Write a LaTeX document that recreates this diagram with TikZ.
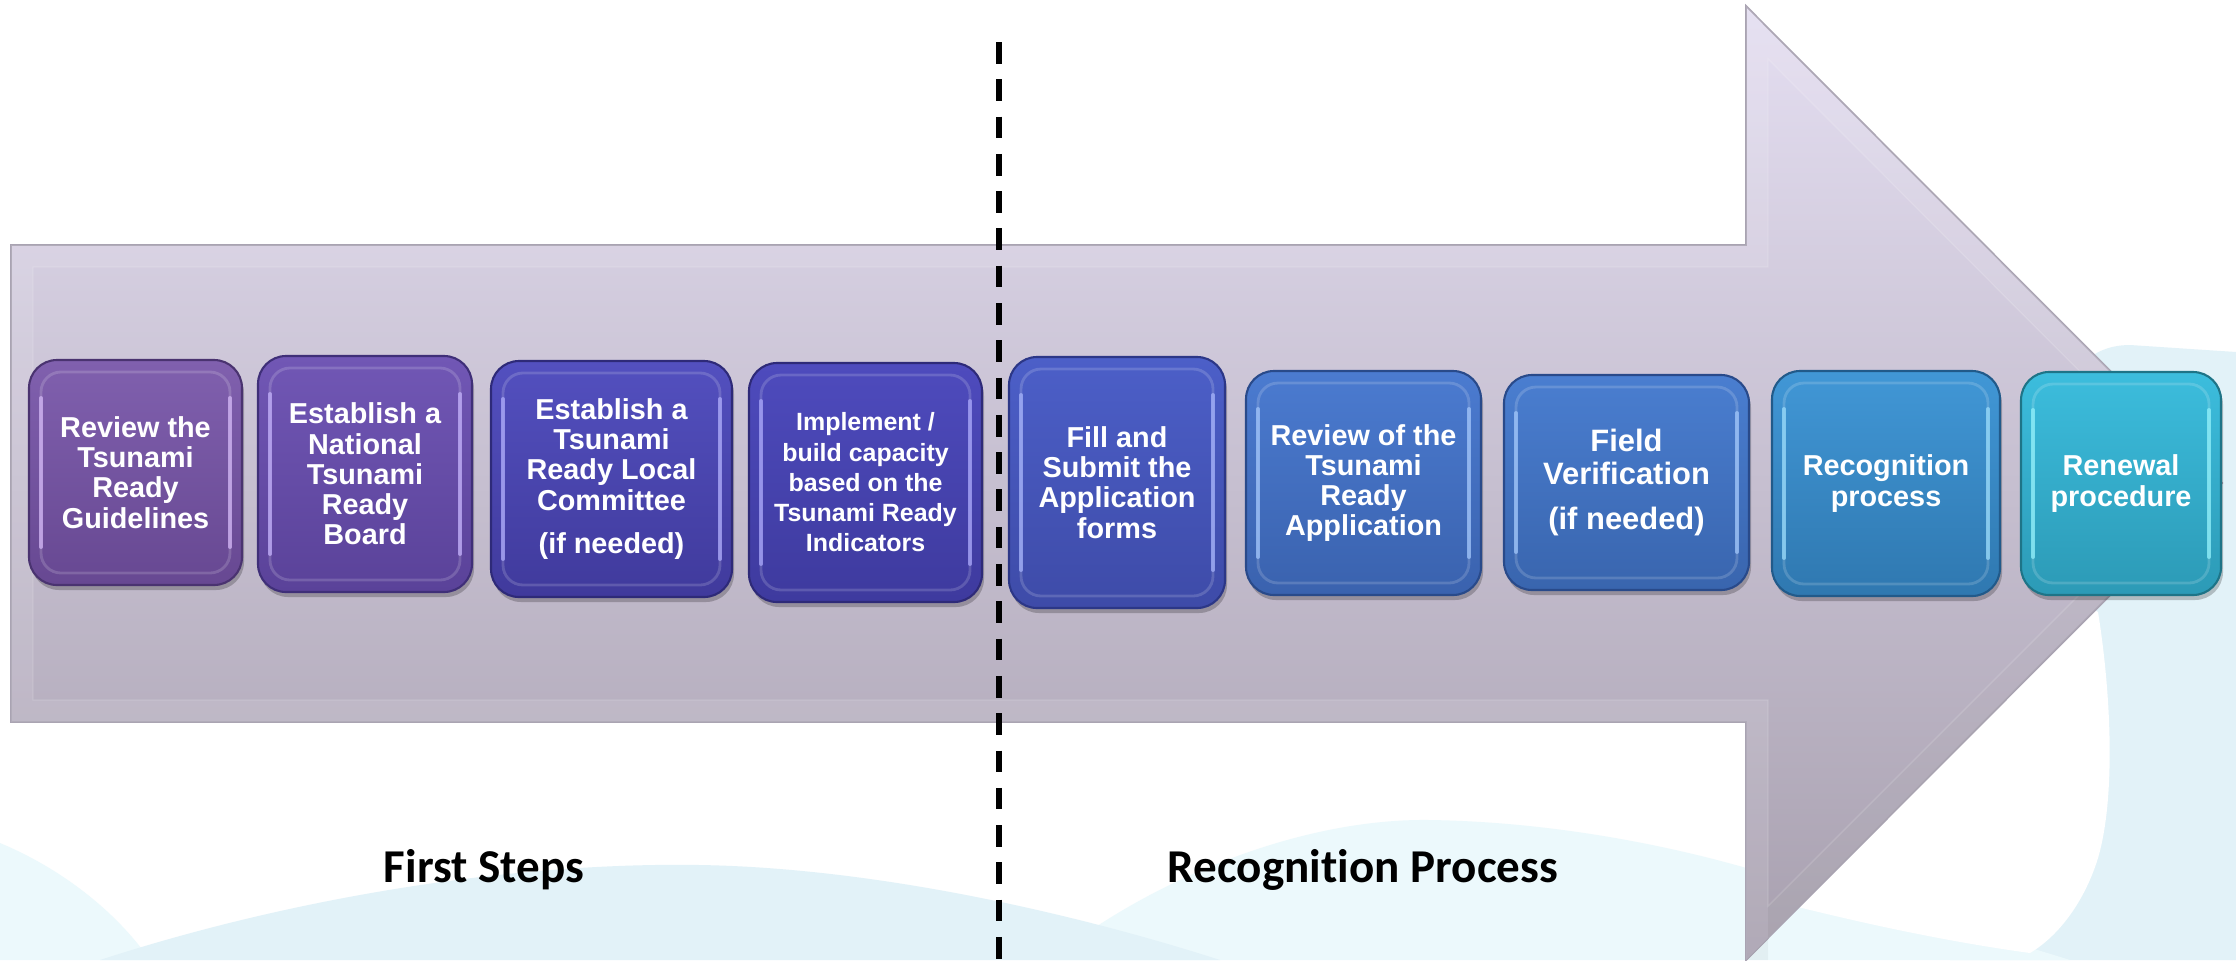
\documentclass[tikz,border=0pt]{standalone}
\usepackage{fontspec}
\setmainfont{Liberation Sans}
\newfontfamily\calibfont{Carlito}[Ligatures=NoCommon]
\usetikzlibrary{calc}
\definecolor{paleC}{HTML}{ECF9FC}
\definecolor{paleB}{HTML}{E2F2F8}
\definecolor{arrT}{HTML}{E4DEF1}
\definecolor{arrB}{HTML}{A8A0AF}
\definecolor{arrE}{HTML}{A9A3B2}
% box colours: T top, B bottom, E edge, H highlight
\definecolor{b1T}{HTML}{8060AE}\definecolor{b1B}{HTML}{674892}\definecolor{b1E}{HTML}{4A3370}\definecolor{b1H}{HTML}{D2B6F5}
\definecolor{b2T}{HTML}{7157B5}\definecolor{b2B}{HTML}{5A4299}\definecolor{b2E}{HTML}{3F2F78}\definecolor{b2H}{HTML}{C2B0FA}
\definecolor{b3T}{HTML}{5350BF}\definecolor{b3B}{HTML}{403A9C}\definecolor{b3E}{HTML}{2E2A78}\definecolor{b3H}{HTML}{ACAAFA}
\definecolor{b4T}{HTML}{4E4BBD}\definecolor{b4B}{HTML}{3E3A9E}\definecolor{b4E}{HTML}{2E2A78}\definecolor{b4H}{HTML}{A8A6FA}
\definecolor{b5T}{HTML}{4C5FC8}\definecolor{b5B}{HTML}{3E4BA8}\definecolor{b5E}{HTML}{2C3787}\definecolor{b5H}{HTML}{A4B2FA}
\definecolor{b6T}{HTML}{4B7BD0}\definecolor{b6B}{HTML}{3A62AE}\definecolor{b6E}{HTML}{294A8A}\definecolor{b6H}{HTML}{A0C4FA}
\definecolor{b7T}{HTML}{4A7ED0}\definecolor{b7B}{HTML}{3965AE}\definecolor{b7E}{HTML}{294A8A}\definecolor{b7H}{HTML}{A0C6FA}
\definecolor{b8T}{HTML}{4197D6}\definecolor{b8B}{HTML}{2F78B0}\definecolor{b8E}{HTML}{215A8A}\definecolor{b8H}{HTML}{98DAFA}
\definecolor{b9T}{HTML}{3CBDDD}\definecolor{b9B}{HTML}{2C9AB6}\definecolor{b9E}{HTML}{1E7487}\definecolor{b9H}{HTML}{90F0FA}
\newcommand\boxfa{\bfseries\fontsize{8.2pt}{8.6pt}\selectfont}
\newcommand\boxfb{\bfseries\fontsize{7.1pt}{8.6pt}\selectfont}
\newcommand\boxfc{\bfseries\fontsize{8.8pt}{9.4pt}\selectfont}
\newcommand\tbox[8]{%
  \fill[black, opacity=0.22, rounded corners=2.8mm] ({#2+2},{#3+5}) rectangle ({#4+2},{#5+5});
  \shadedraw[top color=#6T, bottom color=#6B, draw=#6E, line width=0.6pt, rounded corners=2.8mm] (#2,#3) rectangle (#4,#5);
  \draw[white, opacity=0.16, line width=0.8pt, rounded corners=2mm] ({#2+12},{#3+12}) rectangle ({#4-12},{#5-12});
  \draw[#6H, opacity=0.75, line width=1.1pt, line cap=round] ({#2+12},{#3+38}) -- ({#2+12},{#5-38});
  \draw[#6H, opacity=0.75, line width=1.1pt, line cap=round] ({#4-12},{#3+38}) -- ({#4-12},{#5-38});
  \node[text=white, align=center, inner sep=0pt, font=#7] (#1) at ({(#2+#4)/2},{(#3+#5)/2}) {#8};
}
\begin{document}
\begin{tikzpicture}[x=0.1mm,y=-0.1mm]
\useasboundingbox (0,0) rectangle (2236,960);
\fill[white] (0,0) rectangle (2236,960);
% background waves
\fill[paleC] (0,843) .. controls (60,868) and (115,910) .. (150,960) -- (0,960) -- cycle;
\fill[paleB] (2236,352) -- (2130,345) .. controls (2085,345) and (2060,380) .. (2060,430) -- (2060,700) -- (1950,960) -- (2236,960) -- cycle;
\fill[paleC] (1050,960) .. controls (1150,880) and (1300,818) .. (1430,820) .. controls (1560,822) and (1680,848) .. (1760,872) .. controls (1900,910) and (1990,935) .. (2070,960) -- cycle;
\fill[paleB] (100,960) .. controls (300,895) and (520,862) .. (700,865) .. controls (880,868) and (1080,915) .. (1220,960) -- cycle;
\fill[white] (2000,560) -- (2098,612) .. controls (2112,700) and (2115,800) .. (2098,858) .. controls (2085,900) and (2060,935) .. (2030,953) .. controls (1950,942) and (1870,925) .. (1790,905) -- (1760,900) -- cycle;
% big arrow
\shadedraw[top color=arrT, bottom color=arrB, draw=arrE, line width=0.5pt]
  (11,245) -- (1746,245) -- (1746,6) -- (2222,483) -- (1746,960) -- (1746,722) -- (11,722) -- cycle;
\fill[white, opacity=0.1, even odd rule]
  (11,245) -- (1746,245) -- (1746,6) -- (2222,483) -- (1746,960) -- (1746,722) -- (11,722) -- cycle
  (33,267) -- (1768,267) -- (1768,59) -- (2191,483) -- (1768,906) -- (1768,700) -- (33,700) -- cycle;
\fill[black, opacity=0.04] (1746,960) -- (2222,483) -- (2191,483) -- (1768,906) -- (1768,960) -- cycle;
\draw[white, opacity=0.14, line width=0.4pt]
  (33,267) -- (1768,267) -- (1768,59) -- (2191,483) -- (1768,906) -- (1768,700) -- (33,700) -- cycle;
% dashed divider
\coordinate (dtop) at (999,42);
\coordinate (dbot) at (999,962);
\draw[black, line width=1.7pt, dash pattern=on 6.17pt off 4.44pt] (dtop) -- (dbot);
% step boxes
\tbox{s1}{29}{360}{242}{585}{b1}{\boxfa}{Review the\\Tsunami\\Ready\\Guidelines}
\tbox{s2}{258}{356}{472}{592}{b2}{\boxfa}{Establish a\\National\\Tsunami\\Ready\\Board}
\tbox{s3}{491}{361}{732}{597}{b3}{\boxfa}{Establish a\\Tsunami\\Ready Local\\Committee\\[3.7pt](if needed)}
\tbox{s4}{749}{363}{982}{602}{b4}{\boxfb}{Implement /\\build capacity\\based on the\\Tsunami Ready\\Indicators}
\tbox{s5}{1009}{357}{1225}{608}{b5}{\boxfa}{Fill and\\Submit the\\Application\\forms}
\tbox{s6}{1246}{371}{1481}{595}{b6}{\boxfa}{Review of the\\Tsunami\\Ready\\Application}
\tbox{s7}{1504}{375}{1749}{590}{b7}{\boxfc}{Field\\Verification\\[3.4pt](if needed)}
\tbox{s8}{1772}{371}{2000}{596}{b8}{\boxfa}{Recognition\\process}
\tbox{s9}{2021}{372}{2221}{595}{b9}{\boxfa}{Renewal\\procedure}
% section labels
\node[font=\calibfont\bfseries\fontsize{13.4pt}{16pt}\selectfont, anchor=base, inner sep=0pt] (first) at (484,882) {First Steps};
\node[font=\calibfont\bfseries\fontsize{13.4pt}{16pt}\selectfont, anchor=base, inner sep=0pt] (recog) at (1363,882) {Recognition Process};
\end{tikzpicture}
\end{document}
